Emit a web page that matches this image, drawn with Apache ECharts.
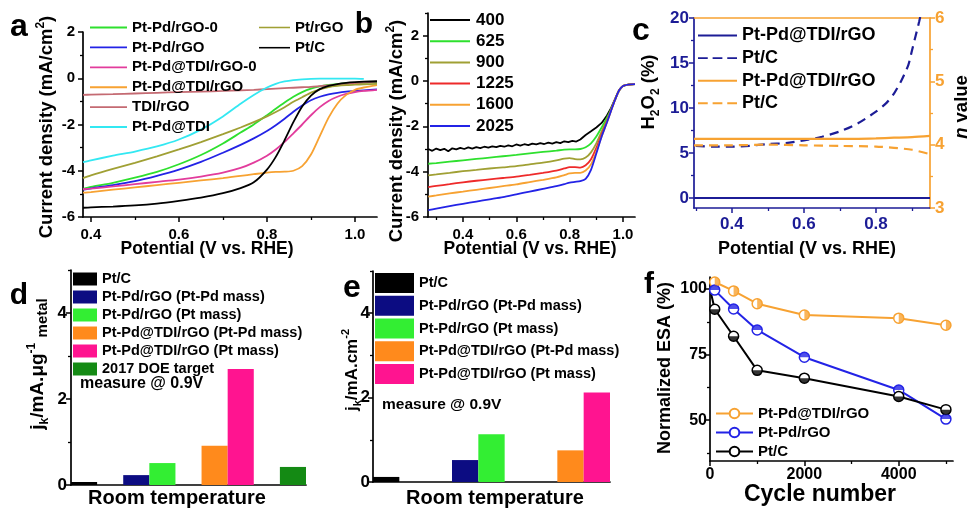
<!DOCTYPE html>
<html><head><meta charset="utf-8">
<script src="https://cdn.jsdelivr.net/npm/echarts@6/dist/echarts.min.js"></script>
<style>html,body{margin:0;padding:0;background:#fff}#c{width:973px;height:510px}</style>
</head><body><div id="c"></div>
<script>
// ---------------- DATA ----------------
// Panel a: LSV curves (x = potential V vs RHE, y = current density mA/cm2)
const aPotential = [0.382,0.40,0.45,0.50,0.55,0.60,0.65,0.70,0.74,0.77,0.80,0.82,0.84,0.86,0.88,0.90,0.92,0.94,0.96,0.98,1.00,1.02,1.05];
const aPtPdrGO0   = [-4.78,-4.70,-4.52,-4.30,-4.05,-3.72,-3.32,-2.82,-2.35,-2.00,-1.60,-1.32,-1.05,-0.80,-0.60,-0.45,-0.35,-0.29,-0.25,-0.22,-0.20,-0.19,-0.17];
const aPtPdrGO    = [-4.82,-4.76,-4.62,-4.45,-4.22,-3.95,-3.62,-3.22,-2.88,-2.60,-2.28,-2.03,-1.75,-1.45,-1.18,-0.95,-0.80,-0.70,-0.63,-0.58,-0.55,-0.52,-0.48];
const aPtPdTDIrGO0= [-4.80,-4.77,-4.68,-4.58,-4.48,-4.38,-4.25,-4.08,-3.88,-3.65,-3.35,-3.08,-2.75,-2.38,-2.00,-1.60,-1.25,-0.98,-0.80,-0.68,-0.60,-0.55,-0.50];
const aPtPdTDIrGO = [-4.95,-4.92,-4.82,-4.72,-4.62,-4.52,-4.42,-4.32,-4.22,-4.15,-4.08,-4.05,-4.04,-4.00,-3.80,-3.30,-2.50,-1.70,-1.10,-0.72,-0.50,-0.40,-0.30];
const aTDIrGO     = [-0.72,-0.71,-0.69,-0.66,-0.63,-0.60,-0.58,-0.55,-0.52,-0.50,-0.47,-0.45,-0.43,-0.41,-0.39,-0.37,-0.34,-0.31,-0.28,-0.25,-0.22,-0.19,-0.15];
const aPtPdTDI    = [-3.63,-3.55,-3.35,-3.17,-2.95,-2.65,-2.22,-1.65,-1.10,-0.72,-0.40,-0.24,-0.14,-0.08,-0.05,-0.03,-0.02,-0.02,-0.02,-0.02,-0.02,-0.03,null];
const aPtrGO      = [-4.32,-4.20,-3.92,-3.66,-3.38,-3.08,-2.76,-2.42,-2.13,-1.90,-1.65,-1.46,-1.25,-1.02,-0.82,-0.62,-0.48,-0.38,-0.33,-0.30,-0.28,-0.26,-0.24];
const aPtC        = [-5.60,-5.58,-5.55,-5.50,-5.42,-5.30,-5.16,-4.97,-4.75,-4.50,-3.95,-3.40,-2.68,-1.90,-1.22,-0.75,-0.47,-0.33,-0.25,-0.20,-0.17,-0.15,-0.13];
const aTicksX = [0.4,0.6,0.8,1.0], aMinorX = [0.5,0.7,0.9];
const aTicksY = [-6,-4,-2,0,2],   aMinorY = [-5,-3,-1,1];

// Panel b: rotation rates (rpm)
const b400X = [0.27,0.285,0.30,0.315,0.33,0.345,0.36,0.375,0.39,0.405,0.42,0.435,0.45,0.465,0.48,0.495,0.51,0.525,0.54,0.555,0.57,0.585,0.60,0.615,0.63,0.645,0.66,0.675,0.69,0.705,0.72,0.735,0.75,0.765,0.78,0.795,0.81,0.825,0.84,0.86,0.88,0.90,0.92,0.94,0.955,0.97,0.985,1.00,1.02,1.045];
const b400  = [-3.00,-3.08,-2.98,-3.05,-2.99,-3.10,-2.97,-3.02,-2.95,-3.00,-2.93,-2.98,-2.92,-2.96,-2.90,-2.94,-2.88,-2.92,-2.86,-2.90,-2.84,-2.88,-2.80,-2.85,-2.79,-2.83,-2.76,-2.80,-2.74,-2.78,-2.72,-2.76,-2.70,-2.74,-2.66,-2.70,-2.64,-2.67,-2.58,-2.38,-2.22,-2.05,-1.85,-1.52,-1.20,-0.80,-0.42,-0.22,-0.16,-0.14];
const bX    = [0.27,0.30,0.35,0.40,0.45,0.50,0.55,0.60,0.65,0.70,0.75,0.78,0.80,0.82,0.84,0.86,0.88,0.90,0.92,0.94,0.955,0.97,0.985,1.00,1.02,1.045];
const b625  = [-3.65,-3.62,-3.56,-3.50,-3.44,-3.38,-3.32,-3.26,-3.19,-3.13,-3.07,-3.03,-3.02,-3.02,-3.00,-2.92,-2.75,-2.45,-2.05,-1.62,-1.25,-0.82,-0.42,-0.22,-0.16,-0.14];
const b900  = [-4.16,-4.12,-4.05,-3.98,-3.92,-3.86,-3.81,-3.76,-3.68,-3.60,-3.50,-3.42,-3.40,-3.45,-3.46,-3.38,-3.15,-2.75,-2.22,-1.72,-1.28,-0.82,-0.42,-0.22,-0.16,-0.14];
const b1225 = [-4.68,-4.63,-4.55,-4.47,-4.40,-4.34,-4.28,-4.22,-4.14,-4.05,-3.95,-3.86,-3.80,-3.80,-3.82,-3.72,-3.45,-2.95,-2.35,-1.78,-1.30,-0.83,-0.42,-0.22,-0.16,-0.14];
const b1600 = [-5.10,-5.05,-4.96,-4.88,-4.80,-4.72,-4.64,-4.56,-4.46,-4.36,-4.25,-4.15,-4.08,-4.05,-4.05,-3.95,-3.68,-3.12,-2.45,-1.82,-1.32,-0.84,-0.42,-0.22,-0.16,-0.14];
const b2025 = [-5.70,-5.63,-5.52,-5.42,-5.32,-5.22,-5.12,-5.00,-4.88,-4.76,-4.64,-4.55,-4.48,-4.45,-4.42,-4.32,-3.92,-3.20,-2.45,-1.82,-1.32,-0.84,-0.42,-0.22,-0.16,-0.14];
const bTicksX = [0.4,0.6,0.8,1.0], bMinorX = [0.3,0.5,0.7,0.9];
const bTicksY = [-6,-4,-2,0,2],   bMinorY = [-5,-3,-1,1,3];

// Panel c: H2O2 yield (%) and electron transfer number n
const cH2O2X    = [0.30,0.35,0.40,0.45,0.50,0.55,0.60,0.65,0.70,0.75,0.80,0.83,0.85,0.87,0.89,0.90,0.91,0.92,0.93];
const cH2O2PtC  = [5.8,5.7,5.7,5.8,6.0,6.1,6.4,6.8,7.4,8.3,9.6,10.6,11.6,13.0,14.8,16.4,18.0,19.6,21.5];
const cNX       = [0.295,0.40,0.50,0.60,0.70,0.80,0.85,0.90,0.95];
const cH2O2TDI  = [0,0,0,0,0,0,0,0,0];
const cNTDI     = [4.09,4.09,4.09,4.09,4.09,4.10,4.11,4.12,4.14];
const cNPtC     = [3.99,3.99,4.00,3.99,3.98,3.97,3.95,3.92,3.85];
const cTicksX = [0.4,0.6,0.8], cMinorX = [0.3,0.5,0.7,0.9];
const cTicksL = [0,5,10,15,20], cMinorL = [2.5,7.5,12.5,17.5];
const cTicksR = [3,4,5,6],      cMinorR = [3.5,4.5,5.5];

// Panel d: mass activity (mA/ug metal) @0.9V
const dNames  = ['Pt/C','Pt-Pd/rGO (Pt-Pd mass)','Pt-Pd/rGO (Pt mass)','Pt-Pd@TDI/rGO (Pt-Pd mass)','Pt-Pd@TDI/rGO (Pt mass)','2017 DOE target'];
const dValues = [0.07,0.23,0.51,0.91,2.70,0.42];
const dSlots  = [0,2,3,5,6,8];
const dTicksY = [0,2,4], dMinorY = [1,3,5];

// Panel e: specific activity (mA/cm2) @0.9V
const eNames  = ['Pt/C','Pt-Pd/rGO (Pt-Pd mass)','Pt-Pd/rGO (Pt mass)','Pt-Pd@TDI/rGO (Pt-Pd mass)','Pt-Pd@TDI/rGO (Pt mass)'];
const eValues = [0.12,0.52,1.13,0.75,2.12];
const eSlots  = [0,3,4,7,8];
const eTicksY = [0,2,4], eMinorY = [1,3,5];
const slotCount = 9;

// Panel f: normalized ESA (%) vs cycle number
const fTDIX = [100,500,1000,2000,4000,5000];
const fTDI  = [102.7,99.3,94.4,90.1,88.9,86.2];
const fRGOX = [100,500,1000,2000,4000,5000];
const fRGO  = [99.6,92.4,84.4,74.0,61.5,50.4];
const fPtCX = [0,100,500,1000,2000,4000,5000];
const fPtC  = [100,92.3,82.0,69.0,66.0,59.0,54.0];
const fTicksX = [0,2000,4000], fMinorX = [1000,3000,5000];
const fTicksY = [50,75,100],   fMinorY = [37.5,62.5,87.5];

// ---------------- STYLE ----------------
const FF = "'Liberation Sans', Arial, Helvetica, sans-serif";
const C = {green:'#2ee02e', blue:'#2323e6', pink:'#e23c9c', orange:'#f7a232', rose:'#c46a72', cyan:'#33e8f2', olive:'#a0a034', black:'#000',
  red:'#ee2a2a', navy:'#1c1c96', borange:'#ff8a1c', bpink:'#ff1490', bgreen:'#33ee33', bnavy:'#0c0c82', doe:'#148a14'};
const strip = n => n.split('#')[0];
const ICON_SOLID = 'path://M0,0H40V2H0Z';
const ICON_DASH  = 'path://M0,0H10V2H0Z M15,0H25V2H15Z M30,0H40V2H30Z';

function vAxis(gi, min, max, pos, major, o) {
  o = o || {};
  return { type:'value', gridIndex:gi, min:min, max:max, position:pos,
    axisLine:{show:true, onZero:false, lineStyle:{color:o.color||'#000', width:1.7}},
    axisTick:{show:true, inside:false, length:o.tl||5, customValues:major, lineStyle:{color:o.color||'#000', width:1.5}},
    axisLabel:{show:true, customValues:major, margin:(o.margin!=null?o.margin:6), color:o.lc||o.color||'#000', fontSize:o.fs||15, fontWeight:'bold', fontFamily:FF, formatter:o.fmt},
    splitLine:{show:false} };
}
function mAxis(gi, min, max, pos, minor, o) {
  o = o || {};
  return { type:'value', gridIndex:gi, min:min, max:max, position:pos,
    axisLine:{show:false, onZero:false},
    axisTick:{show:true, inside:false, length:3, customValues:minor, lineStyle:{color:o.color||'#000', width:1.3}},
    axisLabel:{show:false}, splitLine:{show:false} };
}
const f1 = v => v.toFixed(1);
const f0 = v => String(Math.round(v));

const grids = [
  {left:83, top:32, width:294, height:185, outerBoundsMode:'none'},
  {left:428, top:13, width:207, height:204, outerBoundsMode:'none'},
  {left:694, top:18, width:236, height:190, outerBoundsMode:'none'},
  {left:71, top:270, width:235, height:215, outerBoundsMode:'none'},
  {left:373, top:271, width:237, height:211, outerBoundsMode:'none'},
  {left:710, top:277, width:243, height:184, outerBoundsMode:'none'}
];

const xAxes = [
  vAxis(0, 0.382, 1.05, 'bottom', aTicksX, {fmt:f1, margin:10, fs:15}),      //0
  mAxis(0, 0.382, 1.05, 'bottom', aMinorX),                                   //1
  vAxis(1, 0.269, 1.045, 'bottom', bTicksX, {fmt:f1, margin:10, fs:15}),      //2
  mAxis(1, 0.269, 1.045, 'bottom', bMinorX),                                  //3
  vAxis(2, 0.295, 0.95, 'bottom', cTicksX, {fmt:f1, margin:8, fs:17, color:C.navy}), //4
  mAxis(2, 0.295, 0.95, 'bottom', cMinorX, {color:C.navy}),                   //5
  {type:'value', gridIndex:2, min:0.295, max:0.95, position:'top', axisLine:{show:true,onZero:false,lineStyle:{color:C.orange,width:1.7}}, axisTick:{show:false}, axisLabel:{show:false}, splitLine:{show:false}}, //6
  {type:'category', gridIndex:3, data:Array.from({length:slotCount},(_, i)=>'d'+i), axisLine:{onZero:false,lineStyle:{color:'#000',width:1.7}}, axisTick:{show:false}, axisLabel:{show:false}}, //7
  {type:'category', gridIndex:4, data:Array.from({length:slotCount},(_, i)=>'e'+i), axisLine:{onZero:false,lineStyle:{color:'#000',width:1.7}}, axisTick:{show:false}, axisLabel:{show:false}}, //8
  vAxis(5, 0, 5150, 'bottom', fTicksX, {fmt:f0, margin:6, fs:16}),           //9
  mAxis(5, 0, 5150, 'bottom', fMinorX)                                        //10
];
const yAxes = [
  vAxis(0, -6, 2, 'left', aTicksY, {fmt:f0, margin:8, fs:15}),   //0
  mAxis(0, -6, 2, 'left', aMinorY),                              //1
  vAxis(1, -6, 3, 'left', bTicksY, {fmt:f0, margin:9, fs:15}),   //2
  mAxis(1, -6, 3, 'left', bMinorY),                              //3
  vAxis(2, -1.11, 20, 'left', cTicksL, {fmt:f0, margin:5, fs:17, color:C.navy}), //4
  mAxis(2, -1.11, 20, 'left', cMinorL, {color:C.navy}),          //5
  vAxis(2, 3, 6, 'right', cTicksR, {fmt:f0, margin:5, fs:17, color:C.orange}),   //6
  mAxis(2, 3, 6, 'right', cMinorR, {color:C.orange}),            //7
  vAxis(3, 0, 5, 'left', dTicksY, {fmt:f0, margin:4, fs:17}),    //8
  mAxis(3, 0, 5, 'left', dMinorY),                               //9
  vAxis(4, 0, 5, 'left', eTicksY, {fmt:f0, margin:3, fs:17}),    //10
  mAxis(4, 0, 5, 'left', eMinorY),                               //11
  vAxis(5, 34.4, 104.6, 'left', fTicksY, {fmt:f0, margin:3, fs:16}), //12
  mAxis(5, 34.4, 104.6, 'left', fMinorY)                         //13
];

const series = [];
function line(name, xs, ys, xi, yi, color, o) {
  o = o || {};
  series.push({type:'line', name:name, xAxisIndex:xi, yAxisIndex:yi,
    data: xs.map((x,i)=>[x, ys[i]]), symbol:'none', smooth:(o.smooth!=null?o.smooth:0.25), clip:true,
    lineStyle:{color:color, width:o.w||1.8, type:o.type||'solid'}, itemStyle:{color:color}, z:o.z||3});
}
// Panel a
line('Pt-Pd/rGO-0#a', aPotential, aPtPdrGO0, 0, 0, C.green);
line('Pt-Pd/rGO#a', aPotential, aPtPdrGO, 0, 0, C.blue);
line('Pt-Pd@TDI/rGO-0#a', aPotential, aPtPdTDIrGO0, 0, 0, C.pink);
line('Pt-Pd@TDI/rGO#a', aPotential, aPtPdTDIrGO, 0, 0, C.orange);
line('TDI/rGO#a', aPotential, aTDIrGO, 0, 0, C.rose);
line('Pt-Pd@TDI#a', aPotential, aPtPdTDI, 0, 0, C.cyan);
line('Pt/rGO#a', aPotential, aPtrGO, 0, 0, C.olive);
line('Pt/C#a', aPotential, aPtC, 0, 0, C.black);
// Panel b
line('400#b', b400X, b400, 2, 2, C.black, {smooth:0});
line('625#b', bX, b625, 2, 2, C.green);
line('900#b', bX, b900, 2, 2, C.olive);
line('1225#b', bX, b1225, 2, 2, C.red);
line('1600#b', bX, b1600, 2, 2, C.orange);
line('2025#b', bX, b2025, 2, 2, C.blue);
// Panel c
line('Pt-Pd@TDI/rGO#c1', cNX, cH2O2TDI, 4, 4, C.navy, {w:2.2, smooth:0});
line('Pt/C#c1', cH2O2X, cH2O2PtC, 4, 4, C.navy, {w:2.2, type:[9,6]});
line('Pt-Pd@TDI/rGO#c2', cNX, cNTDI, 4, 6, C.orange, {w:2.2});
line('Pt/C#c2', cNX, cNPtC, 4, 6, C.orange, {w:2.2, type:[9,6]});
// Panel d / e bars
const dColors = [C.black, C.bnavy, C.bgreen, C.borange, C.bpink, C.doe];
dValues.forEach((v,i)=>{
  const arr = new Array(slotCount).fill(null); arr[dSlots[i]] = v;
  series.push({type:'bar', name:dNames[i]+'#d', xAxisIndex:7, yAxisIndex:8, data:arr, stack:'d', barWidth:'100%', barCategoryGap:'0%', itemStyle:{color:dColors[i]}});
});
eValues.forEach((v,i)=>{
  const arr = new Array(slotCount).fill(null); arr[eSlots[i]] = v;
  series.push({type:'bar', name:eNames[i]+'#e', xAxisIndex:8, yAxisIndex:10, data:arr, stack:'e', barWidth:'100%', barCategoryGap:'0%', itemStyle:{color:dColors[i]}});
});
// Panel f
const HALF = {
  top:'path://M0,10A10,10,0,0,1,20,10Z M10,20L10,20.01',
  bottom:'path://M0,10A10,10,0,0,0,20,10Z M10,0L10,0.01',
  right:'path://M10,0A10,10,0,0,1,10,20Z M0,10L0.01,10'
};
function fLine(name, xs, ys, color, half) {
  const data = xs.map((x,i)=>[x, ys[i]]);
  const sz = v => (v[0] === 0 ? 0 : 10);
  series.push({type:'line', name:name, xAxisIndex:9, yAxisIndex:12, data:data, symbol:'circle', symbolSize:sz, showSymbol:true,
    lineStyle:{color:color, width:2}, itemStyle:{color:'#fff', borderColor:color, borderWidth:1.5}, z:3});
  series.push({type:'scatter', name:'_' + name, xAxisIndex:9, yAxisIndex:12, data:data, symbol:half, symbolSize:sz,
    itemStyle:{color:color}, z:5, silent:true});
}
fLine('Pt-Pd@TDI/rGO#f', fTDIX, fTDI, C.orange, HALF.right);
fLine('Pt-Pd/rGO#f', fRGOX, fRGO, C.blue, HALF.top);
fLine('Pt/C#f', fPtCX, fPtC, C.black, HALF.bottom);

function legend(o) {
  return Object.assign({orient:'vertical', padding:0, selectedMode:false, formatter:strip, align:'left',
    textStyle:{fontFamily:FF, fontWeight:'bold', color:'#000', fontSize:o.fs, lineHeight:o.lh}}, o);
}
const solid = names => names.map(n => ({name:n, icon:ICON_SOLID}));
const legends = [
  legend({left:90, top:20, itemWidth:37, itemHeight:2, itemGap:4.9, fs:15, lh:14,
    data:solid(['Pt-Pd/rGO-0#a','Pt-Pd/rGO#a','Pt-Pd@TDI/rGO-0#a','Pt-Pd@TDI/rGO#a','TDI/rGO#a','Pt-Pd@TDI#a'])}),
  legend({left:259, top:20, itemWidth:31, itemHeight:2, itemGap:5.2, fs:15, lh:14, data:solid(['Pt/rGO#a','Pt/C#a'])}),
  legend({left:430, top:11.5, itemWidth:42, itemHeight:2, itemGap:4.2, fs:17, lh:17, data:solid(['400#b','625#b','900#b','1225#b','1600#b','2025#b'])}),
  legend({left:698, top:26.5, itemWidth:39, itemHeight:2.2, itemGap:4.6, fs:18, lh:17,
    data:[{name:'Pt-Pd@TDI/rGO#c1',icon:ICON_SOLID},{name:'Pt/C#c1',icon:ICON_DASH},{name:'Pt-Pd@TDI/rGO#c2',icon:ICON_SOLID},{name:'Pt/C#c2',icon:ICON_DASH}]}),
  legend({left:73, top:271.5, itemWidth:24, itemHeight:13, itemGap:3, fs:14.5, lh:13, icon:'rect', data:dNames.map(n=>n+'#d')}),
  legend({left:375, top:273, itemWidth:39, itemHeight:20, itemGap:2.75, fs:14.5, lh:20, icon:'rect', data:eNames.map(n=>n+'#e')}),
  legend({left:715, top:406, itemWidth:37, itemHeight:12, itemGap:4, fs:15, lh:12, data:['Pt-Pd@TDI/rGO#f','Pt-Pd/rGO#f','Pt/C#f']})
];

function txt(x, y, text, fs, o) {
  o = o || {};
  return {type:'text', x:x, y:y, rotation:o.rot||0, z:10, silent:true,
    style:{text:text, fill:o.color||'#000', fontFamily:FF, fontWeight:'bold', fontSize:fs, fontStyle:'normal',
      align:o.align||'center', verticalAlign:'middle', rich:o.rich}};
}
const R = Math.PI/2;
function richSet(fs, col) {
  col = col || '#000';
  return {
    t:{fontFamily:FF, fontWeight:'bold', fontSize:fs, lineHeight:fs+6, fill:col, color:col},
    s:{fontFamily:FF, fontWeight:'bold', fontSize:Math.round(fs*0.65), lineHeight:Math.round(fs*0.65), verticalAlign:'top', fill:col, color:col},
    b:{fontFamily:FF, fontWeight:'bold', fontSize:Math.round(fs*0.65), lineHeight:Math.round(fs*0.65), verticalAlign:'bottom', fill:col, color:col},
    m:{fontFamily:FF, fontWeight:'bold', fontSize:Math.round(fs*0.8), lineHeight:Math.round(fs*0.8), verticalAlign:'bottom', fill:col, color:col},
    i:{fontFamily:FF, fontWeight:'bold', fontStyle:'italic', fontSize:fs, lineHeight:fs+6, fill:col, color:col}
  };
}
const graphics = [
  txt(19, 27, 'a', 32), txt(364, 25, 'b', 30), txt(641, 31, 'c', 32),
  txt(19, 296, 'd', 30), txt(352, 288, 'e', 32), txt(649, 285, 'f', 30),
  txt(47, 127, '{t|Current density (mA/cm}{s|2}{t|)}', 18.5, {rot:R, rich:richSet(18.5)}),
  txt(207, 249, 'Potential (V vs. RHE)', 17.5),
  txt(397, 131, '{t|Current density (mA/cm}{s|2}{t|)}', 18.5, {rot:R, rich:richSet(18.5)}),
  txt(530, 249, 'Potential (V vs. RHE)', 17.5),
  txt(649, 92, '{t|H}{b|2}{t|O}{b|2}{t| (%)}', 18.5, {rot:R, rich:richSet(18.5)}),
  txt(962, 107, '{i|n}{t| value}', 18.5, {rot:R, rich:richSet(18.5)}),
  txt(807, 249, 'Potential (V vs. RHE)', 18),
  txt(38, 364, '{t|j}{b|k}{t|/mA.μg}{s|-1}{t| }{m|metal}', 19, {rot:R, rich:richSet(19)}),
  txt(177, 498, 'Room temperature', 20),
  txt(80, 384, 'measure @ 0.9V', 16, {align:'left'}),
  txt(352, 370, '{t|j}{b|k}{t|/mA.cm}{s|-2}', 17, {rot:R, rich:richSet(17)}),
  txt(495, 498, 'Room temperature', 20),
  txt(382, 405, 'measure @ 0.9V', 15.5, {align:'left'}),
  txt(665, 368, 'Normalized ESA (%)', 18, {rot:R}),
  txt(820, 495, 'Cycle number', 23)
];

const chart = echarts.init(document.getElementById('c'), null, {renderer:'canvas'});
chart.setOption({
  animation:false, backgroundColor:'#fff',
  grid:grids, xAxis:xAxes, yAxis:yAxes, series:series, legend:legends, graphic:graphics
});
</script></body></html>
